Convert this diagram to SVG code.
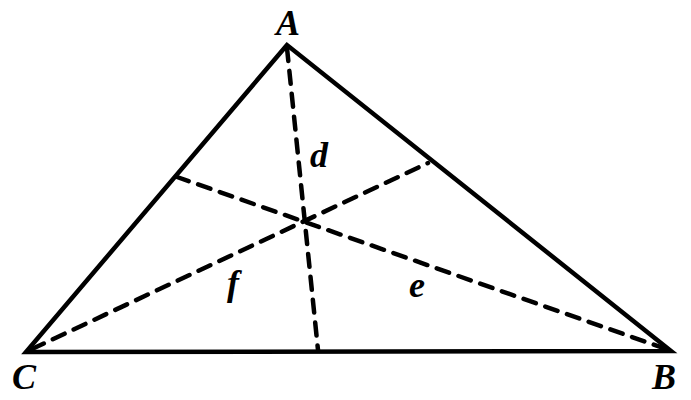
<svg xmlns="http://www.w3.org/2000/svg" width="691" height="400" viewBox="0 0 691 400">
<style>
.side{stroke:#000;stroke-width:4.5;fill:none;stroke-linejoin:miter;stroke-linecap:round}
.dash{stroke:#000;stroke-width:4.5;fill:none;stroke-dasharray:13 10;stroke-linecap:round}
.lbl{font-family:"Liberation Serif",serif;font-weight:bold;font-style:italic;font-size:36px;fill:#000;text-anchor:middle}
</style>
<rect width="691" height="400" fill="#fff"/>
<g id="connectors">
<polygon class="side" points="287,45 26,352 671,351"/>
<line class="dash" x1="287" y1="48" x2="318" y2="350"/>
<line class="dash" x1="32" y1="349" x2="428" y2="163"/>
<line class="dash" x1="666" y1="349" x2="177" y2="177"/>
</g>
<g id="A"><text class="lbl" x="288" y="35">A</text></g>
<g id="B"><text class="lbl" x="664" y="389">B</text></g>
<g id="C"><text class="lbl" x="24" y="389">C</text></g>
<g id="d"><text class="lbl" x="319" y="167">d</text></g>
<g id="f"><text class="lbl" x="233" y="295">f</text></g>
<g id="e"><text class="lbl" x="417" y="297">e</text></g>
</svg>
